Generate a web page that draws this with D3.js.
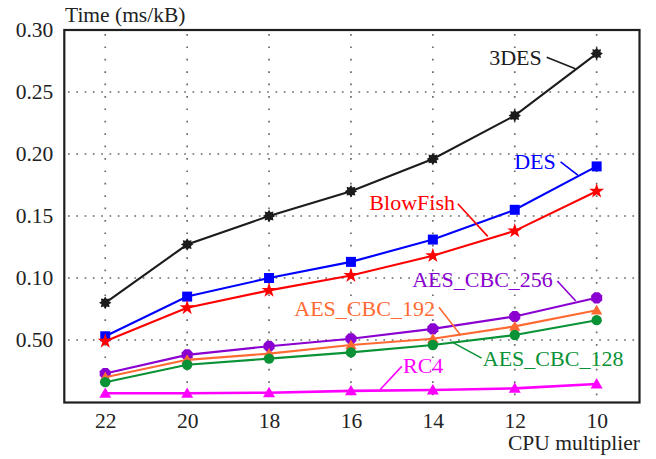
<!DOCTYPE html>
<html>
<head>
<meta charset="utf-8">
<script src="https://cdn.jsdelivr.net/npm/d3@7"></script>
<style>
  html, body { margin: 0; padding: 0; background: #fff; }
  svg { display: block; }
  text { font-family: "Liberation Serif", "Times New Roman", serif; }
</style>
</head>
<body>
<div id="chart"></div>
<script>
// ---- data ----
const multipliers = [22, 20, 18, 16, 14, 12, 10];
const des3     = [0.080, 0.127, 0.150, 0.170, 0.196, 0.231, 0.281];
const des      = [0.053, 0.085, 0.100, 0.113, 0.131, 0.155, 0.190];
const blowfish = [0.049, 0.076, 0.090, 0.102, 0.118, 0.138, 0.170];
const aes256   = [0.023, 0.038, 0.045, 0.051, 0.059, 0.069, 0.084];
const aes192   = [0.020, 0.034, 0.039, 0.046, 0.051, 0.061, 0.074];
const aes128   = [0.016, 0.030, 0.035, 0.040, 0.046, 0.054, 0.066];
const rc4      = [0.007, 0.007, 0.0075, 0.009, 0.0097, 0.011, 0.0145];
const seriesNames = ["3DES", "DES", "BlowFish", "AES_CBC_256", "AES_CBC_192", "AES_CBC_128", "RC4"];
const yTicks = [0.05, 0.10, 0.15, 0.20, 0.25, 0.30];
const yTickLabels = ["0.50", "0.10", "0.15", "0.20", "0.25", "0.30"];
const yTitle = "Time (ms/kB)";
const xTitle = "CPU multiplier";

// ---- styling / layout ----
const W = 656, H = 459;
const colors = {
  "3DES": "#1c1c1c", "DES": "#0000ff", "BlowFish": "#ff0000",
  "AES_CBC_256": "#8a00d0", "AES_CBC_192": "#ff6a33", "AES_CBC_128": "#0a9236", "RC4": "#ff00ff"
};
const markers = {
  "3DES": "star8", "DES": "square", "BlowFish": "star", "AES_CBC_256": "octagon",
  "AES_CBC_192": "triangle", "AES_CBC_128": "circle", "RC4": "triangle"
};
const values = [des3, des, blowfish, aes256, aes192, aes128, rc4];

// label annotations in data units: text anchor pos, leader line endpoints
const annotations = [
  { name: "3DES",        tx: 11.34, ty: 0.2719, anchor: "end",   l: [[11.22, 0.2781], [10.52, 0.2687]] },
  { name: "DES",         tx: 11.00, ty: 0.1883, anchor: "end",   l: [[10.88, 0.1936], [10.46, 0.1829]] },
  { name: "BlowFish",    tx: 13.46, ty: 0.1545, anchor: "end",   l: [[13.39, 0.1599], [12.66, 0.1336]] },
  { name: "AES_CBC_256", tx: 11.07, ty: 0.0925, anchor: "end",   l: [[10.96, 0.0976], [10.51, 0.0815]] },
  { name: "AES_CBC_192", tx: 13.95, ty: 0.0694, anchor: "end",   l: [[13.85, 0.0764], [13.32, 0.0539]] },
  { name: "AES_CBC_128", tx: 12.78, ty: 0.0292, anchor: "start", l: [[12.81, 0.0354], [13.54, 0.0485]] },
  { name: "RC4",         tx: 14.73, ty: 0.0233, anchor: "start", l: [[14.76, 0.0287], [15.29, 0.0099]] }
];

const x = d3.scaleLinear().domain([23, 9]).range([64.3, 637.6]);
const y = d3.scaleLinear().domain([0, 0.30]).range([402, 30]);

const svg = d3.select("#chart").append("svg").attr("width", W).attr("height", H);

// grid
const grid = svg.append("g");
grid.selectAll("line.v").data(multipliers).enter().append("line")
  .attr("x1", d => x(d)).attr("x2", d => x(d))
  .attr("y1", y(0.30) + 4).attr("y2", y(0))
  .attr("stroke", "#6a6a6a").attr("stroke-width", 1.7)
  .attr("stroke-dasharray", "1.7 10.7");
grid.selectAll("line.h").data(yTicks.filter(t => t < 0.3)).enter().append("line")
  .attr("x1", 68).attr("x2", 639)
  .attr("y1", d => y(d)).attr("y2", d => y(d))
  .attr("stroke", "#6a6a6a").attr("stroke-width", 1.7)
  .attr("stroke-dasharray", "1.7 6.6");

// axes
const yAxis = d3.axisLeft(y).tickValues(yTicks).tickSize(0).tickPadding(11)
  .tickFormat((d, i) => yTickLabels[i]);
const gy = svg.append("g").attr("transform", `translate(${x(23)},0)`).call(yAxis);
gy.select(".domain").remove();
gy.selectAll("text").attr("font-size", 21.5).attr("fill", "#222")
  .style("font-family", '"Liberation Serif", serif');

const xAxis = d3.axisBottom(x).tickValues(multipliers).tickSize(0).tickFormat(d3.format("d"));
const gx = svg.append("g").attr("transform", `translate(0,${y(0)})`).call(xAxis);
gx.select(".domain").remove();
gx.selectAll("text").attr("font-size", 21.5).attr("fill", "#222").attr("y", 26).attr("dy", 0)
  .style("font-family", '"Liberation Serif", serif');

// frame
svg.append("rect").attr("x", x(23)).attr("y", y(0.30))
  .attr("width", 639.5 - x(23)).attr("height", y(0) - y(0.30) + 0.5)
  .attr("fill", "none").attr("stroke", "#1e1e1e").attr("stroke-width", 2.2);

// titles
svg.append("text").attr("x", 65).attr("y", 22).attr("font-size", 21.5).attr("fill", "#222").text(yTitle);
svg.append("text").attr("x", 640).attr("y", 450).attr("text-anchor", "end")
  .attr("font-size", 21.5).attr("fill", "#222").text(xTitle);

// marker shapes
function star8(r1, r2) {
  const pts = [];
  for (let i = 0; i < 16; i++) {
    const a = Math.PI * i / 8 - Math.PI / 2;
    const r = i % 2 === 0 ? r1 : r2;
    pts.push([r * Math.cos(a), r * Math.sin(a)]);
  }
  return "M" + pts.map(p => p.join(",")).join("L") + "Z";
}
function octagon(r) {
  const pts = [];
  for (let i = 0; i < 8; i++) {
    const a = Math.PI * i / 4 + Math.PI / 8;
    pts.push([r * Math.cos(a), r * Math.sin(a)]);
  }
  return "M" + pts.map(p => p.join(",")).join("L") + "Z";
}
function markerPath(kind, name) {
  switch (kind) {
    case "star8": return star8(6.2, 4.1);
    case "square": return d3.symbol(d3.symbolSquare, 100)();
    case "star": return d3.symbol(d3.symbolStar, 70)();
    case "octagon": return octagon(6);
    case "circle": return d3.symbol(d3.symbolCircle, 85)();
    case "triangle": return d3.symbol(d3.symbolTriangle, name === "RC4" ? 62 : 56)();
  }
}

// series
const line = d3.line().x((d, i) => x(multipliers[i])).y(d => y(d));
seriesNames.forEach((name, k) => {
  const vals = values[k];
  const g = svg.append("g");
  g.append("path").datum(vals).attr("d", line)
    .attr("fill", "none").attr("stroke", colors[name])
    .attr("stroke-width", name === "RC4" ? 2.6 : 2.1);
  g.selectAll("path.m").data(vals).enter().append("path")
    .attr("transform", (d, i) => `translate(${x(multipliers[i])},${y(d) + (markers[name] === "triangle" ? 1 : 0)})`)
    .attr("d", markerPath(markers[name], name))
    .attr("fill", colors[name]);
});

// annotations
annotations.forEach(a => {
  svg.append("line")
    .attr("x1", x(a.l[0][0])).attr("y1", y(a.l[0][1]))
    .attr("x2", x(a.l[1][0])).attr("y2", y(a.l[1][1]))
    .attr("stroke", colors[a.name]).attr("stroke-width", 1.6);
  svg.append("text").attr("x", x(a.tx)).attr("y", y(a.ty))
    .attr("text-anchor", a.anchor).attr("font-size", 22)
    .attr("fill", colors[a.name]).text(a.name);
});
</script>
</body>
</html>
